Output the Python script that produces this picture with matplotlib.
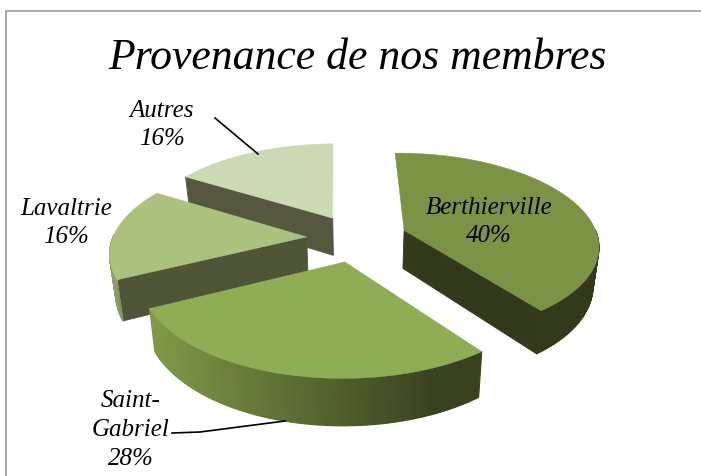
import numpy as np
import matplotlib
matplotlib.use('Agg')
import matplotlib.pyplot as plt
from matplotlib.colors import to_rgb

# data
names = ['Berthierville', 'Saint-\nGabriel', 'Lavaltrie', 'Autres']
values = [40, 28, 16, 16]
title = 'Provenance de nos membres'

# styles, same order as values
top_colors = ['#7a9345', '#8fad54', '#abc27f', '#cdd9b5']
wall_colors = ['#333a1c', '#3a4220', '#4f5638', '#55583f']
rim_left = ['#333a1c', '#7f9a47', '#8f9f6c', '#55583f']
rim_right = ['#333a1c', '#39411f', '#4f5638', '#55583f']
label_pos = [(489, 222), (131, 430), (66, 223), (162, 125)]

# projection of the tilted pie, in pixels
cx, cy = 357, 238
scale_x, scale_y = 194, 91
persp = 0.15
explode = 0.26
depth = 38.5
bottom_shrink = 0.975
start_angle = -1


def project(u, v):
    w = 1 + persp * v
    return cx + scale_x * u / w, cy - scale_y * v / w, depth / w


def lower(x):
    return cx + (x - cx) * bottom_shrink


def wedge_points(a0, a1):
    mid = np.radians((a0 + a1) / 2)
    u0, v0 = explode * np.sin(mid), explode * np.cos(mid)
    th = np.radians(np.linspace(a0, a1, 120))
    return (u0, v0), th, u0 + np.sin(th), v0 + np.cos(th)


fig = plt.figure(figsize=(7.01, 4.76), dpi=100)
ax = fig.add_axes([0, 0, 1, 1])
ax.set_xlim(0, 701)
ax.set_ylim(476, 0)
ax.axis('off')

ends = start_angle + np.cumsum(values) / np.sum(values) * 360
starts = ends - np.array(values) / np.sum(values) * 360

# back to front
for i in [3, 2, 0, 1]:
    (u0, v0), th, us, vs = wedge_points(starts[i], ends[i])
    xs, ys, ds = project(us, vs)
    ax0, ay0, ad0 = project(u0, v0)

    # radial wall on the clockwise end, seen only when it faces the viewer
    if np.cos(np.radians(ends[i] + 90)) < -0.1:
        ax.fill([ax0, xs[-1], lower(xs[-1]), lower(ax0)],
                [ay0, ys[-1], ys[-1] + ds[-1], ay0 + ad0],
                color=wall_colors[i], lw=0.6)
    if np.cos(np.radians(starts[i] - 90)) < -0.1:
        ax.fill([ax0, xs[0], lower(xs[0]), lower(ax0)],
                [ay0, ys[0], ys[0] + ds[0], ay0 + ad0],
                color=wall_colors[i], lw=0.6)

    # outer rim, shaded from left to right
    c0, c1 = np.array(to_rgb(rim_left[i])), np.array(to_rgb(rim_right[i]))
    for k in range(len(th) - 1):
        if np.cos(th[k]) < 0.02:
            t = (xs[k] - xs.min()) / (xs.max() - xs.min())
            t = np.clip(t * 1.15, 0, 1)
            col = c0 + (c1 - c0) * t
            ax.fill([xs[k], xs[k + 1], lower(xs[k + 1]), lower(xs[k])],
                    [ys[k], ys[k + 1], ys[k + 1] + ds[k + 1], ys[k] + ds[k]],
                    color=col, lw=0.8, joinstyle='round')

    ax.fill(np.r_[ax0, xs], np.r_[ay0, ys], color=top_colors[i], lw=0.3)

# frame
ax.plot([701, 6, 6], [11, 11, 476], color='#a3a3a3', lw=1.3, solid_joinstyle='miter')

font = dict(family='Liberation Serif', style='italic', color='black')
ax.text(357, 58, title, fontsize=31.5, ha='center', va='center', **font)
for i in range(len(names)):
    ax.text(label_pos[i][0], label_pos[i][1], f'{names[i]}\n{values[i]}%', fontsize=18,
            ha='center', va='center', multialignment='center', linespacing=1.4, **font)

# leader lines
ax.plot([215, 258], [118, 154], color='black', lw=1.2)
ax.plot([172, 200, 285], [433, 432, 421], color='black', lw=1.2)

fig.savefig('out.png', dpi=100)
